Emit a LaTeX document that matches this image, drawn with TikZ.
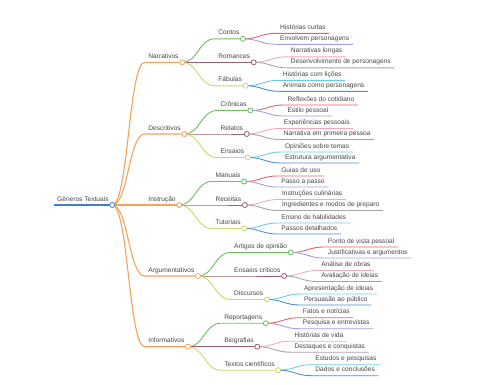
\documentclass[tikz,border=0pt]{standalone}
\usepackage{fontspec}
\setmainfont{Liberation Sans}
\usetikzlibrary{calc}

\definecolor{txt}{HTML}{454545}
\definecolor{croot}{HTML}{3F7FC5}
\definecolor{corange}{HTML}{F5A25A}
\definecolor{cgreen}{HTML}{6DBE5B}
\definecolor{cmauve}{HTML}{9C5F6E}
\definecolor{cyel}{HTML}{C9D86A}
\definecolor{cred}{HTML}{E3606E}
\definecolor{cpurple}{HTML}{A69BE0}
\definecolor{cpink}{HTML}{F2A9C0}
\definecolor{cgray}{HTML}{A8A2AE}
\definecolor{ccyan}{HTML}{6DCBE6}
\definecolor{cblue}{HTML}{4B8FD4}

\begin{document}
\begin{tikzpicture}[x=1pt, y=-1pt,
    lbl/.style={anchor=south west, inner xsep=3.5pt, inner ysep=1pt,
        text depth=0.5ex, text=txt, font=\fontsize{6.6}{8}\selectfont},
    dot/.style={circle, draw, fill=white, inner sep=0pt,
        minimum size=5pt, line width=0.8pt},
    link/.style={line width=0.9pt},
    thick link/.style={line width=1.1pt}]
    \useasboundingbox (0,0) rectangle (480,384);

    % root and first level
    \node[lbl] (root) at (53.5,205) {Gêneros Textuais};
    \node[lbl] (narr) at ($(root.south east)+(32.5,-142.7)$) {Narrativos};
    \node[lbl] (descr) at ($(root.south east)+(32.5,-71)$) {Descritivos};
    \node[lbl] (instr) at ($(root.south east)+(32.5,0)$) {Instrução};
    \node[lbl] (argum) at ($(root.south east)+(32.5,71)$) {Argumentativos};
    \node[lbl] (inform) at ($(root.south east)+(32.5,141.7)$) {Informativos};

    \draw[thick link, croot] (root.south west) -- (root.south east);
    \foreach \n in {narr, descr, instr, argum, inform}
        \draw[thick link, corange] (root.south east)
            .. controls +(16,0) and +(-16,0) .. (\n.south west)
            -- (\n.south east);

    % second level
    \node[lbl] (contos) at ($(narr.south east)+(32.5,-23.5)$) {Contos};
    \node[lbl] (romances) at ($(narr.south east)+(32.5,0)$) {Romances};
    \node[lbl] (fabulas) at ($(narr.south east)+(32.5,23.5)$) {Fábulas};
    \node[lbl] (cronicas) at ($(descr.south east)+(32.5,-23.5)$) {Crônicas};
    \node[lbl] (relatos) at ($(descr.south east)+(32.5,0)$) {Relatos};
    \node[lbl] (ensaios) at ($(descr.south east)+(32.5,23.5)$) {Ensaios};
    \node[lbl] (manuais) at ($(instr.south east)+(32.5,-23.5)$) {Manuais};
    \node[lbl] (receitas) at ($(instr.south east)+(32.5,0)$) {Receitas};
    \node[lbl] (tutoriais) at ($(instr.south east)+(32.5,23.5)$) {Tutoriais};
    \node[lbl] (artigos) at ($(argum.south east)+(32.5,-23.5)$) {Artigos de opinião};
    \node[lbl] (criticos) at ($(argum.south east)+(32.5,0)$) {Ensaios críticos};
    \node[lbl] (discursos) at ($(argum.south east)+(32.5,23.5)$) {Discursos};
    \node[lbl] (reportagens) at ($(inform.south east)+(32.5,-23.5)$) {Reportagens};
    \node[lbl] (biografias) at ($(inform.south east)+(32.5,0)$) {Biografias};
    \node[lbl] (textos) at ($(inform.south east)+(32.5,23.5)$) {Textos científicos};

    \foreach \p/\a/\b/\c in {narr/contos/romances/fabulas,
            descr/cronicas/relatos/ensaios, instr/manuais/receitas/tutoriais,
            argum/artigos/criticos/discursos, inform/reportagens/biografias/textos} {
        \draw[link, cgreen] (\p.south east)
            .. controls +(16,0) and +(-16,0) .. (\a.south west) -- (\a.south east);
        \draw[link, cmauve] (\p.south east) -- (\b.south west) -- (\b.south east);
        \draw[link, cyel] (\p.south east)
            .. controls +(16,0) and +(-16,0) .. (\c.south west) -- (\c.south east);
    }

    % third level, one loop per colour pair
    \foreach \p/\u/\v/\cu/\cv in {
            contos/Histórias curtas/Envolvem personagens/cred/cpurple,
            cronicas/Reflexões do cotidiano/Estilo pessoal/cred/cpurple,
            manuais/Guias de uso/Passo a passo/cred/cpurple,
            artigos/Ponto de vista pessoal/Justificativas e argumentos/cred/cpurple,
            reportagens/Fatos e notícias/Pesquisa e entrevistas/cred/cpurple,
            romances/Narrativas longas/Desenvolvimento de personagens/cpink/cgray,
            relatos/Experiências pessoais/Narrativa em primeira pessoa/cpink/cgray,
            receitas/Instruções culinárias/Ingredientes e modos de preparo/cpink/cgray,
            criticos/Análise de obras/Avaliação de ideias/cpink/cgray,
            biografias/Histórias de vida/Destaques e conquistas/cpink/cgray,
            fabulas/Histórias com lições/Animais como personagens/ccyan/cblue,
            ensaios/Opiniões sobre temas/Estrutura argumentativa/ccyan/cblue,
            tutoriais/Ensino de habilidades/Passos detalhados/ccyan/cblue,
            discursos/Apresentação de ideias/Persuasão ao público/ccyan/cblue,
            textos/Estudos e pesquisas/Dados e conclusões/ccyan/cblue} {
        \node[lbl] (\p-1) at ($(\p.south east)+(33.5,-5.5)$) {\u};
        \node[lbl] (\p-2) at ($(\p.south east)+(33.5,5.5)$) {\v};
        \draw[link, \cu] (\p.south east)
            .. controls +(16,0) and +(-16,0) .. (\p-1.south west) -- (\p-1.south east);
        \draw[link, \cv] (\p.south east)
            .. controls +(16,0) and +(-16,0) .. (\p-2.south west) -- (\p-2.south east);
    }

    % circles on top
    \node[dot, draw=croot] (root-c) at (root.south east) {};
    \foreach \n in {narr, descr, instr, argum, inform}
        \node[dot, draw=corange] (\n-c) at (\n.south east) {};
    \foreach \a/\b/\c in {contos/romances/fabulas, cronicas/relatos/ensaios,
            manuais/receitas/tutoriais, artigos/criticos/discursos,
            reportagens/biografias/textos} {
        \node[dot, draw=cgreen] (\a-c) at (\a.south east) {};
        \node[dot, draw=cmauve] (\b-c) at (\b.south east) {};
        \node[dot, draw=cyel] (\c-c) at (\c.south east) {};
    }
\end{tikzpicture}
\end{document}
